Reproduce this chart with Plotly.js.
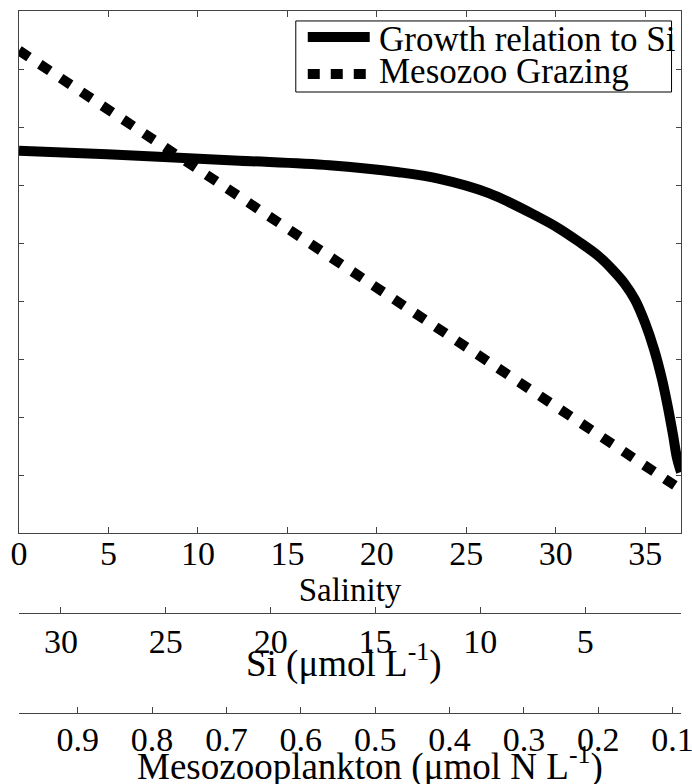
<!DOCTYPE html>
<html>
<head>
<meta charset="utf-8">
<script src="https://cdn.plot.ly/plotly-3.0.1.min.js"></script>
<style>
  html, body { margin: 0; padding: 0; background: #fff; }
  #chart { width: 692px; height: 784px; }
</style>
</head>
<body>
<div id="chart"></div>
<script>
// Relative diatom growth as a function of dissolved Si (µmol/L)
var siConc   = [32, 27.8, 21.5, 17.2, 13.9, 12.0, 9.6, 7.24, 6.29, 5.33, 4.38, 3.67, 3.10, 2.62, 2.14, 1.71, 1.33, 1.05, 0.81, 0.62, 0.43];
var growthSi = [6.59, 6.53, 6.42, 6.34, 6.22, 6.11, 5.86, 5.45, 5.26, 5.03, 4.78, 4.53, 4.29, 4.02, 3.62, 3.16, 2.64, 2.16, 1.69, 1.29, 1.05];

// Mesozooplankton grazing pressure against mesozooplankton biomass (µmol N/L)
var mesoBiomass = [0.979, 0.0887];
var grazing = [8.32, 0.75];

// Salinity span of the transect (shared horizontal reference)
var salinitySpan = [0, 37];

// Axis ticks
var salinityTicks = [0, 5, 10, 15, 20, 25, 30, 35];
var yTicks = [0, 1, 2, 3, 4, 5, 6, 7, 8, 9];
var siRange = [32, 0.43];
var siTicks = [32, 30, 25, 20, 15, 10, 5, 0.43];
var siLabels = ['', '30', '25', '20', '15', '10', '5', ''];
var mesoRange = [0.979, 0.0887];
var mesoTicks = [0.979, 0.9, 0.8, 0.7, 0.6, 0.5, 0.4, 0.3, 0.2, 0.1, 0.0887];
var mesoLabels = ['', '0.9', '0.8', '0.7', '0.6', '0.5', '0.4', '0.3', '0.2', '0.1', ''];

var legendNames = ['Growth relation to Si', 'Mesozoo Grazing'];
var siTitle = 'Si (μmol L<sup>-1</sup>)';
var mesoTitle = 'Mesozooplankton (μmol N L<sup>-1</sup>)';

var serif = 'Liberation Serif, Times New Roman, serif';
var axisGrey = '#444';

var traces = [
  {
    // keeps the salinity axis in the layout; draws nothing
    x: salinitySpan, y: [0, 0], type: 'scatter', mode: 'none',
    xaxis: 'x', yaxis: 'y', showlegend: false, hoverinfo: 'skip'
  },
  {
    x: siConc, y: growthSi, type: 'scatter', mode: 'lines',
    xaxis: 'x2', yaxis: 'y', name: legendNames[0], showlegend: false,
    line: { color: '#000', width: 10, shape: 'spline', smoothing: 1 }
  },
  {
    x: mesoBiomass, y: grazing, type: 'scatter', mode: 'lines',
    xaxis: 'x3', yaxis: 'y', name: legendNames[1], showlegend: false,
    line: { color: '#000', width: 10, dash: '12px,13px' }
  }
];

var commonX = {
  showline: true, linecolor: axisGrey, linewidth: 1,
  ticks: 'inside', ticklen: 6, tickcolor: axisGrey, tickwidth: 1,
  showgrid: false, zeroline: false, automargin: false,
  tickfont: { family: serif, size: 34, color: '#000' },
  ticklabeloverflow: 'allow',
  tickmode: 'array'
};

// Hand-built legend box: frame, line samples and labels in paper coordinates
var legendShapes = [
  { type: 'rect', xref: 'paper', yref: 'paper', x0: 0.4181, x1: 0.9857, y0: 0.8846, y1: 0.9858,
    line: { color: '#000', width: 1 }, fillcolor: '#fff', layer: 'above' },
  { type: 'line', xref: 'paper', yref: 'paper', x0: 0.4362, x1: 0.5298, y0: 0.9630, y1: 0.9630,
    line: { color: '#000', width: 10 }, layer: 'above' },
  { type: 'line', xref: 'paper', yref: 'paper', x0: 0.4362, x1: 0.5253, y0: 0.9103, y1: 0.9103,
    line: { color: '#000', width: 10, dash: '12px,11px' }, layer: 'above' }
];
var annos = [
  { xref: 'paper', yref: 'paper', x: 0.5404, y: 0.9601, xanchor: 'left', yanchor: 'middle',
    text: legendNames[0], showarrow: false, font: { family: serif, size: 35, color: '#000' } },
  { xref: 'paper', yref: 'paper', x: 0.5404, y: 0.9145, xanchor: 'left', yanchor: 'middle',
    text: legendNames[1], showarrow: false, font: { family: serif, size: 35, color: '#000' } },
  // titles of the two extra horizontal scales
  { xref: 'paper', yref: 'paper', x: 0.4913, y: 0.0740, xanchor: 'center', yanchor: 'middle',
    text: siTitle, showarrow: false, font: { family: serif, size: 37, color: '#000' } },
  { xref: 'paper', yref: 'paper', x: 0.5298, y: -0.0726, xanchor: 'center', yanchor: 'middle',
    text: mesoTitle, showarrow: false, font: { family: serif, size: 37, color: '#000' } }
];

var layout = {
  width: 692, height: 784,
  margin: { l: 19, r: 10.5, t: 11, b: 71 },
  paper_bgcolor: '#fff', plot_bgcolor: '#fff',
  showlegend: false,
  shapes: legendShapes,
  annotations: annos,
  xaxis: Object.assign({}, commonX, {
    range: salinitySpan, tickvals: salinityTicks, ticktext: salinityTicks.map(String),
    mirror: 'ticks', anchor: 'y', ticklabelstandoff: -10,
    title: { text: 'Salinity', font: { family: serif, size: 33, color: '#000' }, standoff: 0 }
  }),
  xaxis2: Object.assign({}, commonX, {
    range: siRange, tickvals: siTicks, ticktext: siLabels, ticklabelstandoff: -2,
    overlaying: 'x', anchor: 'free', position: 0.1425, side: 'bottom'
  }),
  xaxis3: Object.assign({}, commonX, {
    range: mesoRange, tickvals: mesoTicks, ticktext: mesoLabels, ticklabelstandoff: -4,
    overlaying: 'x', anchor: 'free', position: 0, side: 'bottom'
  }),
  yaxis: {
    domain: [0.2564, 1], range: [0, 9],
    tickmode: 'array', tickvals: yTicks, showticklabels: false,
    showline: true, linecolor: axisGrey, linewidth: 1, mirror: 'ticks',
    ticks: 'inside', ticklen: 5, tickcolor: axisGrey, tickwidth: 1,
    showgrid: false, zeroline: false, automargin: false
  }
};

Plotly.newPlot('chart', traces, layout, { displayModeBar: false, staticPlot: true });
</script>
</body>
</html>
